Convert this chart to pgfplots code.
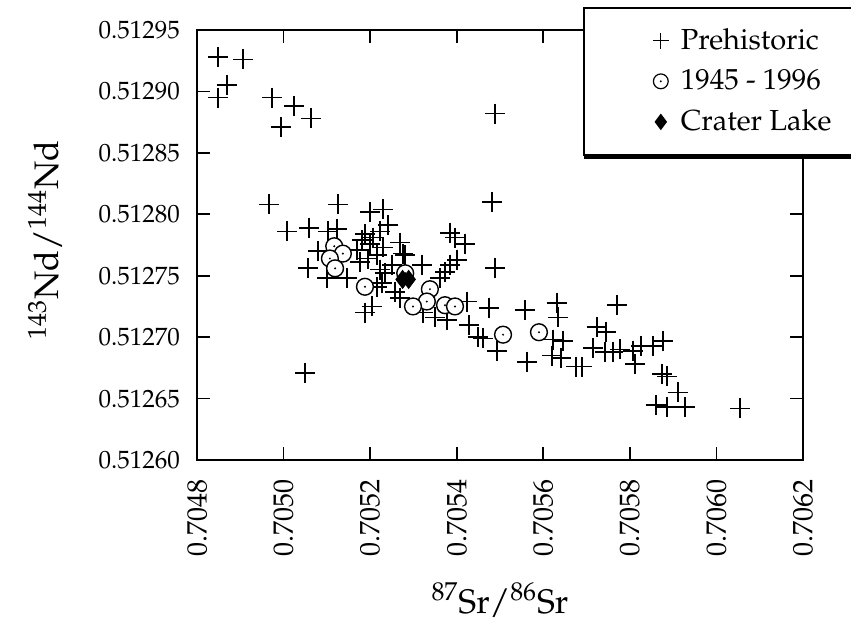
\documentclass[border=0pt]{standalone}
\usepackage[T1]{fontenc}
\usepackage{mathpazo}
\usepackage{pgfplots}
\pgfplotsset{compat=1.18}
\pgfdeclareplotmark{odot}{%
  \pgfpathcircle{\pgfpointorigin}{\pgfplotmarksize}%
  \pgfusepathqfillstroke
  \begin{pgfscope}%
  \pgfsetfillcolor{black}%
  \pgfpathcircle{\pgfpointorigin}{0.55pt}%
  \pgfusepathqfill
  \end{pgfscope}%
}
\begin{document}
\begin{tikzpicture}
\begin{axis}[
  at={(0,0)}, anchor=south west,
  scale only axis, width=303pt, height=215pt,
  xmin=0.7048, xmax=0.7062, ymin=0.5126, ymax=0.51295,
  xtick={0.7048,0.7050,0.7052,0.7054,0.7056,0.7058,0.7060,0.7062},
  ytick={0.51260,0.51265,0.51270,0.51275,0.51280,0.51285,0.51290,0.51295},
  scaled ticks=false,
  tick align=inside, major tick length=6.5pt,
  tick style={black, line width=0.8pt},
  axis line style={line width=0.9pt},
  xticklabel shift=6pt, yticklabel shift=5pt,
  xticklabel style={rotate=90, anchor=east, font=\fontsize{14}{16}\selectfont,
    /pgf/number format/.cd, fixed, fixed zerofill, precision=4},
  yticklabel style={font=\fontsize{12.5}{15}\selectfont,
    /pgf/number format/.cd, fixed, fixed zerofill, precision=5},
  xlabel={\textsuperscript{87}Sr/\textsuperscript{86}Sr},
  ylabel={\textsuperscript{143}Nd/\textsuperscript{144}Nd},
  xlabel style={at={(axis description cs:0.5,-0.3256)}, anchor=center, font=\fontsize{17}{20}\selectfont},
  ylabel style={at={(axis description cs:-0.2508,0.5116)}, anchor=center, font=\fontsize{17}{20}\selectfont},
  legend style={name=leg, at={(axis description cs:0.637,1.0535)}, anchor=north west,
    draw=black, line width=0.8pt, fill=white, inner xsep=21.5pt, inner ysep=8.5pt,
    row sep=4.5pt, font=\fontsize{14.5}{17}\selectfont, cells={anchor=west},
    /tikz/every even column/.append style={column sep=20pt}},
  legend image code/.code={\path[draw=none, fill=none] (-9pt,-4pt) rectangle (16pt,4pt); \draw[#1] plot coordinates {(8pt,0pt)};},
]
\addplot[forget plot, only marks, mark=+, mark size=5pt, line width=0.85pt] coordinates {
(0.704849,0.512928) (0.704906,0.512926) (0.704869,0.512905) (0.704849,0.512895)
(0.704973,0.512895) (0.705024,0.512888) (0.704994,0.512871) (0.705063,0.512878)
(0.705488,0.512882) (0.705482,0.512810) (0.705050,0.512671) (0.704966,0.512808)
(0.705126,0.512808) (0.705200,0.512802) (0.705230,0.512804) (0.705008,0.512786)
(0.705059,0.512789) (0.705103,0.512786) (0.705123,0.512788) (0.705080,0.512770)
(0.705056,0.512756) (0.705100,0.512748) (0.705147,0.512748) (0.705241,0.512791)
(0.705223,0.512786) (0.705207,0.512781) (0.705188,0.512784) (0.705269,0.512777)
(0.705230,0.512773) (0.705216,0.512767) (0.705281,0.512767) (0.705251,0.512759)
(0.705320,0.512759) (0.705234,0.512752) (0.705216,0.512741) (0.705257,0.512737)
(0.705269,0.512732) (0.705385,0.512785) (0.705396,0.512781) (0.705419,0.512776)
(0.705401,0.512763) (0.705385,0.512759) (0.705373,0.512753) (0.705361,0.512748)
(0.705488,0.512756) (0.705424,0.512729) (0.705475,0.512724) (0.705322,0.512720)
(0.705350,0.512716) (0.705378,0.512714) (0.705428,0.512710) (0.705204,0.512725)
(0.705188,0.512720) (0.705181,0.512779) (0.705200,0.512776) (0.705170,0.512771)
(0.705195,0.512764) (0.705177,0.512761) (0.705558,0.512722) (0.705632,0.512728)
(0.705634,0.512716) (0.705770,0.512726) (0.705449,0.512700) (0.705493,0.512689)
(0.705562,0.512680) (0.705622,0.512698) (0.705646,0.512697) (0.705620,0.512685)
(0.705641,0.512683) (0.705676,0.512676) (0.705689,0.512676) (0.705724,0.512708)
(0.705745,0.512704) (0.705715,0.512691) (0.705743,0.512688) (0.705761,0.512688)
(0.705777,0.512690) (0.705807,0.512689) (0.705812,0.512678) (0.705826,0.512693)
(0.705853,0.512693) (0.705877,0.512697) (0.705874,0.512670) (0.705886,0.512668)
(0.705911,0.512655) (0.705860,0.512645) (0.705886,0.512643) (0.705927,0.512643)
(0.706054,0.512642) (0.705461,0.512699) (0.705276,0.512768) (0.705223,0.512755)
(0.705227,0.512744)
};
\addplot[forget plot, only marks, mark=odot, mark size=4.2pt, mark options={fill=white, line width=0.7pt}] coordinates {
(0.705117,0.512774) (0.705137,0.512768) (0.705107,0.512764) (0.705119,0.512756)
(0.705188,0.512741) (0.705281,0.512752) (0.705338,0.512739) (0.705331,0.512729)
(0.705299,0.512725) (0.705373,0.512726) (0.705396,0.512725) (0.705507,0.512702)
(0.705590,0.512704)
};
\addplot[forget plot, only marks, mark=diamond*, mark size=4.5pt, fill=black] coordinates {
(0.705275,0.512747) (0.705289,0.512747)
};
\addlegendimage{only marks, mark=+, mark size=4pt, line width=0.6pt}
\addlegendentry{Prehistoric}
\addlegendimage{only marks, mark=odot, mark size=3.7pt, mark options={fill=white, line width=0.6pt}}
\addlegendentry{1945 - 1996}
\addlegendimage{only marks, mark=diamond*, mark size=3.5pt, fill=black}
\addlegendentry{Crater Lake}
\end{axis}
\draw[line width=1.8pt] ([xshift=0.6pt,yshift=-0.9pt]leg.south west) -- ([xshift=2pt,yshift=-0.9pt]leg.south east);
\pgfresetboundingbox
\path[use as bounding box] (-98.5pt,-82pt) rectangle (327pt,230pt);
\end{tikzpicture}
\end{document}
